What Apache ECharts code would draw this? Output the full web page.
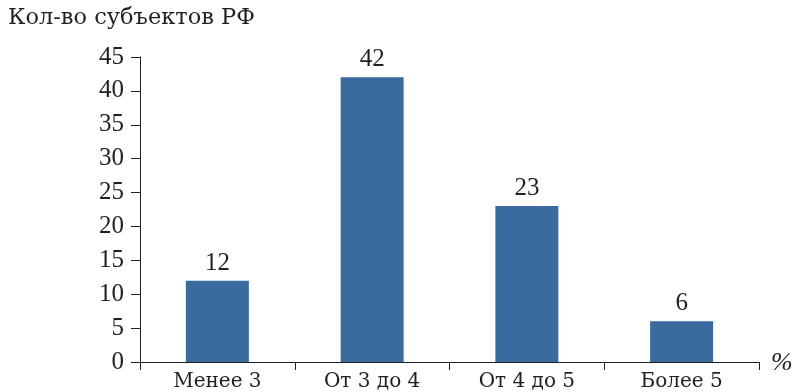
<!DOCTYPE html>
<html>
<head>
<meta charset="utf-8">
<script src="https://cdn.jsdelivr.net/npm/echarts@6/dist/echarts.min.js"></script>
<style>
  html, body { margin: 0; padding: 0; background: #fff; }
  #chart { width: 794px; height: 392px; }
</style>
</head>
<body>
<div id="chart"></div>
<script>
const categories = ["Менее 3", "От 3 до 4", "От 4 до 5", "Более 5"];
const values = [12, 42, 23, 6];
const yTicks = { min: 0, max: 45, interval: 5 };

// digits in Liberation Serif, Cyrillic text in DejaVu Serif (Liberation has no Cyrillic here)
const numFont = "Liberation Serif";
const cyrFont = "DejaVu Serif";
const ink = "#231f20";
const myChart = echarts.init(document.getElementById("chart"));
const option = {
  animation: false,
  textStyle: { fontFamily: numFont },
  grid: { left: 140, right: 35, top: 57, bottom: 30, containLabel: false },
  graphic: [
    {
      type: "text",
      left: 8,
      top: 7,
      style: { text: "Кол-во субъектов РФ", fontSize: 22.5, fontFamily: cyrFont, fill: ink }
    },
    {
      type: "text",
      left: 771,
      top: 350,
      style: { text: "%", fontSize: 26, fontStyle: "italic", fontFamily: numFont, fill: ink }
    }
  ],
  xAxis: {
    type: "category",
    data: categories,
    axisLine: { lineStyle: { color: ink, width: 1 } },
    axisTick: { show: true, length: 8, lineStyle: { color: ink } },
    axisLabel: { color: ink, fontSize: 20, fontFamily: cyrFont, margin: 10 }
  },
  yAxis: {
    type: "value",
    min: yTicks.min,
    max: yTicks.max,
    interval: yTicks.interval,
    axisLine: { show: true, lineStyle: { color: ink, width: 1 } },
    axisTick: { show: true, length: 9, lineStyle: { color: ink } },
    axisLabel: { color: ink, fontSize: 25, fontFamily: numFont, margin: 16 },
    splitLine: { show: false }
  },
  series: [
    {
      type: "bar",
      data: values,
      barWidth: 63,
      itemStyle: { color: "#3a6b9e" },
      label: {
        show: true,
        position: "top",
        distance: 5,
        color: ink,
        fontSize: 25,
        fontFamily: numFont
      }
    }
  ]
};
myChart.setOption(option);
</script>
</body>
</html>
